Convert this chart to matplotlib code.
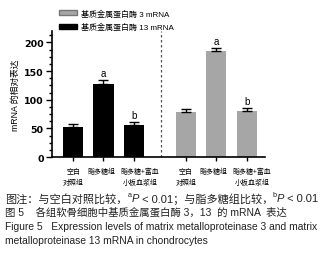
import numpy as np
import matplotlib.pyplot as plt
import matplotlib.transforms as mtransforms
from matplotlib.patches import Patch
from matplotlib.ticker import MultipleLocator

plt.rcParams['font.family'] = ['Liberation Sans', 'Noto Sans CJK SC', 'DejaVu Sans']

groups = ['空白\n对照组', '脂多糖组', '脂多糖+富血\n小板血浆组']
mmp13 = [52, 128, 56]
mmp13_err = [6, 7, 5]
mmp3 = [79, 185, 80]
mmp3_err = [5, 6, 6]
mmp13_marks = ['', 'a', 'b']
mmp3_marks = ['', 'a', 'b']

fig = plt.figure(figsize=(3.23, 2.55), dpi=100)
ax = fig.add_axes([52/323, 97/255, 213/323, 126/255])

x1 = np.arange(3)
x2 = x1 + 3.7
w = 0.66
ax.bar(x1, mmp13, w, color='black', zorder=2)
ax.errorbar(x1, mmp13, yerr=[np.zeros(3), mmp13_err], fmt='none', ecolor='black',
            elinewidth=1, capsize=3.5, capthick=1, zorder=3)
ax.bar(x2, mmp3, w, color='#a6a6a6', zorder=2)
ax.errorbar(x2, mmp3, yerr=[np.zeros(3), mmp3_err], fmt='none', ecolor='black',
            elinewidth=1, capsize=3.5, capthick=1, zorder=3)

for xs, vals, errs, marks in [(x1, mmp13, mmp13_err, mmp13_marks), (x2, mmp3, mmp3_err, mmp3_marks)]:
    for xi, v, e, m in zip(xs, vals, errs, marks):
        if m:
            ax.text(xi, v + e + 3, m, ha='center', va='bottom', fontsize=7)

ax.axvline(2.88, color='#555555', lw=0.9, ls=(0, (2, 2)), ymax=1)

ax.set_xlim(-0.69, 6.3)
ax.set_ylim(0, 220)
ax.yaxis.set_major_locator(MultipleLocator(50))
ax.yaxis.set_minor_locator(MultipleLocator(12.5))
ax.tick_params(axis='y', which='major', length=4, width=1, pad=2)
ax.tick_params(axis='y', which='minor', length=2.5, width=1)
ax.set_yticks(ax.get_yticks())
ax.set_yticklabels([f'{int(v)}' for v in ax.get_yticks()], family='DejaVu Sans',
                   fontweight='bold', fontsize=6.8)
ax.set_ylim(0, 220)

ax.set_xticks(np.concatenate([x1, x2]))
ax.set_xticklabels(groups + groups, fontsize=5.0, family=['Noto Sans CJK SC'], linespacing=1.5)
ax.tick_params(axis='x', length=3, width=1, pad=4)
labs = ax.get_xticklabels()
for i in [1, 4]:
    labs[i].set_transform(labs[i].get_transform() + mtransforms.ScaledTranslation(-2/100, 0, fig.dpi_scale_trans))
for i in [2, 5]:
    labs[i].set_transform(labs[i].get_transform() + mtransforms.ScaledTranslation(6/100, 0, fig.dpi_scale_trans))

for s in ['top', 'right']:
    ax.spines[s].set_visible(False)
ax.spines['left'].set_linewidth(1.2)
ax.spines['bottom'].set_linewidth(1.2)

ax.set_ylabel('mRNA 的相对表达', fontsize=6.3)
ax.yaxis.set_label_coords(-0.15, 0.5)

handles = [Patch(facecolor='#a6a6a6', edgecolor='#777777', label='基质金属蛋白酶 3 mRNA'),
           Patch(facecolor='black', edgecolor='black', label='基质金属蛋白酶 13 mRNA')]
fig.legend(handles=handles, loc='upper left', bbox_to_anchor=(56/323, 1 - 7/255), frameon=False,
           fontsize=5.8, handlelength=2.2, handleheight=0.6, handletextpad=0.5, labelspacing=0.6,
           borderaxespad=0)

# caption line 1 in pieces so the superscripts and italic P can be mixed with CJK text
col = '#222222'
y1 = 1 - 199/255
fs1 = 8.0
pieces = [('图注：与空白对照比较，', {}), ('a', {'sup': True}), ('P', {'style': 'italic'}),
          (' < 0.01；与脂多糖组比较，', {}), ('b', {'sup': True}), ('P', {'style': 'italic'}),
          (' < 0.01', {})]
fig.canvas.draw()
r = fig.canvas.get_renderer()
xpos = 5
for t, opt in pieces:
    if opt.get('sup'):
        tx = fig.text(xpos/323, y1 + 3/255, t, fontsize=fs1*0.65, va='center', ha='left', color=col)
    else:
        tx = fig.text(xpos/323, y1, t, fontsize=fs1, va='center', ha='left', color=col,
                      style=opt.get('style', 'normal'))
    xpos += tx.get_window_extent(renderer=r).width

cap = ['图 5    各组软骨细胞中基质金属蛋白酶 3，13  的 mRNA  表达',
       'Figure 5   Expression levels of matrix metalloproteinase 3 and matrix',
       'metalloproteinase 13 mRNA in chondrocytes']
cap_fs = [7.5, 7.35, 7.35]
ys = [213, 227, 241]
for t, y, f in zip(cap, ys, cap_fs):
    fig.text(5/323, 1 - y/255, t, fontsize=f, va='center', ha='left', color=col)

fig.savefig('out.png', dpi=100)
